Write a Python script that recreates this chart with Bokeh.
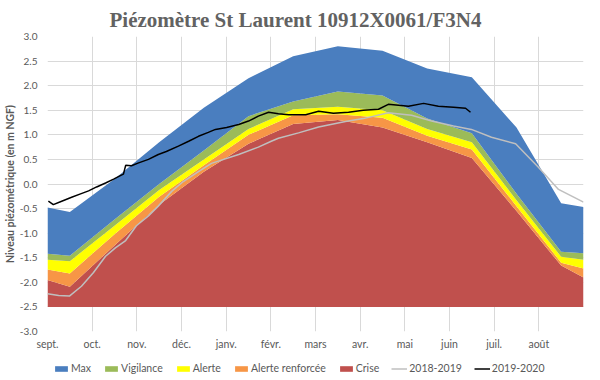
from bokeh.plotting import figure
from bokeh.layouts import column
from bokeh.models import FixedTicker, PrintfTickFormatter, Legend, LegendItem
from bokeh.embed import file_html
from bokeh.resources import INLINE

# ---- data (x in months since 1 Sept) ----
months = ["sept.", "oct.", "nov.", "déc.", "janv.", "févr.", "mars", "avr.", "mai", "juin", "juil.", "août"]
band_x = [0, 0.5, 1.5, 2.5, 3.5, 4.5, 5.5, 6.5, 7.5, 8.5, 9.5, 10.5, 11.5, 12]
base_level = -2.5
crise = [-1.95, -2.09, -1.25, -0.42, 0.25, 0.82, 1.22, 1.30, 1.15, 0.85, 0.53, -0.55, -1.66, -1.90]
alerte_renf = [-1.74, -1.82, -1.02, -0.26, 0.38, 1.00, 1.40, 1.42, 1.35, 0.98, 0.70, -0.45, -1.60, -1.72]
alerte = [-1.54, -1.57, -0.85, -0.12, 0.50, 1.12, 1.52, 1.57, 1.50, 1.12, 0.85, -0.33, -1.48, -1.54]
vigilance = [-1.42, -1.46, -0.72, 0.00, 0.68, 1.38, 1.68, 1.88, 1.80, 1.33, 1.03, -0.20, -1.38, -1.41]
maxi = [-0.48, -0.57, 0.10, 0.85, 1.55, 2.15, 2.60, 2.80, 2.71, 2.35, 2.17, 1.15, -0.39, -0.47]

y1819_x = [0, 0.25, 0.49, 0.76, 1.03, 1.30, 1.52, 1.75, 1.99, 2.26, 2.48, 2.78, 3.04, 3.38, 3.67,
           4.28, 4.72, 5.01, 5.17, 5.62, 6.07, 6.67, 7.07, 7.63, 8.15, 8.60, 9.09, 9.49, 9.94,
           10.48, 10.99, 11.44, 12.0]
y1819 = [-2.23, -2.27, -2.28, -2.08, -1.80, -1.47, -1.30, -1.15, -0.85, -0.65, -0.45, -0.15, 0.05,
         0.25, 0.42, 0.60, 0.75, 0.87, 0.93, 1.04, 1.16, 1.27, 1.33, 1.45, 1.40, 1.28, 1.18, 1.11,
         0.95, 0.82, 0.34, -0.11, -0.37]

y1920_x = [0.02, 0.13, 0.29, 0.54, 0.74, 0.92, 1.10, 1.30, 1.48, 1.63, 1.70, 1.75, 1.88, 2.04, 2.26,
           2.48, 2.66, 2.93, 3.16, 3.38, 3.60, 3.76, 4.01, 4.28, 4.50, 4.72, 4.95, 5.17, 5.40, 5.78,
           6.07, 6.40, 6.74, 7.07, 7.41, 7.63, 7.86, 8.08, 8.42, 8.75, 9.09, 9.36, 9.47]
y1920 = [-0.35, -0.42, -0.36, -0.27, -0.20, -0.14, -0.06, 0.02, 0.10, 0.17, 0.20, 0.38, 0.37, 0.43,
         0.50, 0.60, 0.66, 0.77, 0.87, 0.97, 1.05, 1.11, 1.15, 1.21, 1.28, 1.38, 1.46, 1.43, 1.41,
         1.41, 1.48, 1.44, 1.46, 1.50, 1.52, 1.62, 1.60, 1.58, 1.64, 1.58, 1.56, 1.54, 1.46]

y_ticks = [-3.0, -2.5, -2.0, -1.5, -1.0, -0.5, 0.0, 0.5, 1.0, 1.5, 2.0, 2.5, 3.0]

band_colors = {"Max": "#4A7EBF", "Vigilance": "#9BBB59", "Alerte": "#FFFF00",
               "Alerte renforcée": "#F79646", "Crise": "#C0504D"}
line_colors = {"2018-2019": "#BFBFBF", "2019-2020": "black"}

TXT = "#595959"


def draw_series(fig):
    base = [base_level] * len(band_x)
    rs = {}
    rs["Crise"] = fig.varea(x=band_x, y1=base, y2=crise, fill_color=band_colors["Crise"])
    rs["Alerte renforcée"] = fig.varea(x=band_x, y1=crise, y2=alerte_renf,
                                       fill_color=band_colors["Alerte renforcée"])
    rs["Alerte"] = fig.varea(x=band_x, y1=alerte_renf, y2=alerte, fill_color=band_colors["Alerte"])
    rs["Vigilance"] = fig.varea(x=band_x, y1=alerte, y2=vigilance, fill_color=band_colors["Vigilance"])
    rs["Max"] = fig.varea(x=band_x, y1=vigilance, y2=maxi, fill_color=band_colors["Max"])
    rs["2018-2019"] = fig.line(y1819_x, y1819, line_color=line_colors["2018-2019"], line_width=1.5)
    rs["2019-2020"] = fig.line(y1920_x, y1920, line_color=line_colors["2019-2020"], line_width=1.5)
    return rs


p = figure(frame_width=536, frame_height=295, x_range=(0, 12), y_range=(-3, 3),
           output_backend="svg", toolbar_location=None,
           min_border_left=41, min_border_right=7, min_border_top=29, min_border_bottom=0)
p.background_fill_color = "white"
p.border_fill_color = "white"
p.outline_line_color = None

p.title.text = "Piézomètre St Laurent 10912X0061/F3N4"
p.title.text_font = "Liberation Serif"
p.title.text_font_style = "bold"
p.title.text_font_size = "21px"
p.title.text_color = "#626262"
p.title.align = "left"
p.title.offset = 62

draw_series(p)

# axes
p.yaxis.ticker = FixedTicker(ticks=y_ticks)
p.yaxis.formatter = PrintfTickFormatter(format="%.1f")
p.xaxis.ticker = FixedTicker(ticks=list(range(12)))
p.xaxis.major_label_overrides = {i: m for i, m in enumerate(months)}
for ax in (p.xaxis, p.yaxis):
    ax.axis_line_color = None
    ax.major_tick_line_color = None
    ax.minor_tick_line_color = None
    ax.major_tick_out = 0
    ax.major_tick_in = 0
    ax.minor_tick_out = 0
    ax.minor_tick_in = 0
    ax.major_label_text_font = "Lato"
    ax.major_label_text_color = TXT
p.xaxis.major_label_text_font_size = "10.5px"
p.yaxis.major_label_text_font_size = "10px"
p.xaxis.major_label_standoff = 6
p.yaxis.major_label_standoff = 10
p.yaxis.axis_label = "Niveau piézométrique (en m NGF)"
p.yaxis.axis_label_text_font = "Lato"
p.yaxis.axis_label_text_font_style = "bold"
p.yaxis.axis_label_text_font_size = "10.5px"
p.yaxis.axis_label_text_color = TXT
p.yaxis.axis_label_standoff = 1

p.xgrid.ticker = FixedTicker(ticks=list(range(13)))
p.ygrid.ticker = FixedTicker(ticks=y_ticks)
p.xgrid.grid_line_color = "#D9D9D9"
p.ygrid.grid_line_color = "#D9D9D9"

# legend strip: same series drawn in a small axis-less figure whose ranges keep them out of view
lg = figure(width=584, height=26, output_backend="svg", toolbar_location=None,
            x_axis_location=None, y_axis_location=None,
            min_border=0, x_range=(100, 101), y_range=(100, 101))
lg.grid.visible = False
lg.outline_line_color = None
lg.background_fill_color = "white"
lg.border_fill_color = "white"
lrs = draw_series(lg)
order = ["Max", "Vigilance", "Alerte", "Alerte renforcée", "Crise", "2018-2019", "2019-2020"]
legend = Legend(items=[LegendItem(label=n, renderers=[lrs[n]]) for n in order],
                orientation="horizontal", location=(6, 4))
legend.label_text_font = "Lato"
legend.label_text_font_size = "10.5px"
legend.label_text_color = TXT
legend.label_height = 12
legend.glyph_width = 16
legend.glyph_height = 7
legend.label_standoff = 2
legend.spacing = 12
legend.padding = 2
legend.margin = 0
legend.border_line_color = None
legend.background_fill_alpha = 0
lg.add_layout(legend, "center")

layout = column(p, lg, spacing=0)
open("out.html", "w").write(file_html(layout, INLINE))
